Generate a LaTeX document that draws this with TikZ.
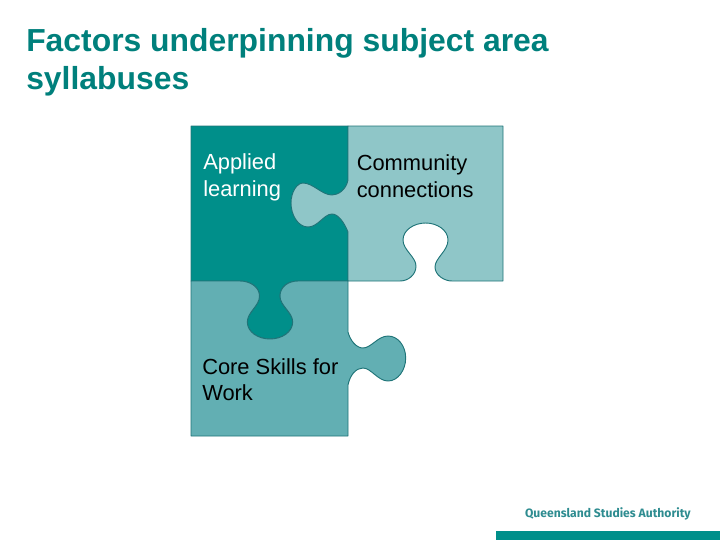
\documentclass[tikz,border=0pt]{standalone}
\usepackage{fontspec}
\setmainfont{Liberation Sans}
\newfontfamily\logofont{Fira Sans}

\definecolor{qsateal}{HTML}{00807C}
\definecolor{appliedfill}{HTML}{008F8A}
\definecolor{communityfill}{HTML}{8FC6C8}
\definecolor{coreskillsfill}{HTML}{62AFB3}
\definecolor{pieceedge}{HTML}{1F7478}
\definecolor{logoteal}{HTML}{2E8C90}

\tikzset{
  piece/.style={draw=pieceedge,line width=0.7pt,line join=round},
  label/.style={inner sep=0pt,anchor=north west,align=left,font=\fontsize{16.4}{20}\selectfont},
}

\begin{document}
\begin{tikzpicture}[x=0.75pt,y=-0.75pt]

\useasboundingbox (0,0) rectangle (720,540);

\node (title) [inner sep=0pt,anchor=north west,align=left,text=qsateal,
  font=\fontsize{23.9}{28.5}\selectfont\bfseries] at (26,28)
  {Factors underpinning subject area\\syllabuses};

% the three pieces, dark one first
\path [piece,fill=appliedfill]
  (191,126) -- (348,126) -- (348,281) -- (298,281)
  .. controls (288,281) and (280,287) .. (280,296)
  .. controls (280,306) and (292.7,312) .. (292.7,322)
  .. controls (292.7,332) and (282,339) .. (270,339)
  .. controls (258,339) and (247.3,332) .. (247.3,322)
  .. controls (247.3,312) and (259.5,306) .. (259.5,296)
  .. controls (259.5,287) and (250,281) .. (240,281)
  -- (191,281) -- cycle;

\path [piece,fill=communityfill]
  (348,126) -- (503,126) -- (503,281) -- (452,281)
  .. controls (444,281) and (435,275) .. (435,267)
  .. controls (435,258) and (448,251) .. (448,240)
  .. controls (448,230) and (437,223) .. (425.7,223)
  .. controls (414,223) and (403,230) .. (403,240)
  .. controls (403,250) and (416,257) .. (416,266)
  .. controls (416,275) and (408,281) .. (400,281)
  -- (348,281) -- (348,232)
  .. controls (344,222) and (338,214) .. (332,214)
  .. controls (324,214) and (318,227) .. (308,227)
  .. controls (298,227) and (291,215) .. (291,203)
  .. controls (291,192) and (297,183) .. (303,183)
  .. controls (313,183) and (322,195) .. (332,195)
  .. controls (338,195) and (346,190) .. (348,180)
  -- cycle;

\path [piece,fill=coreskillsfill]
  (191,281) -- (240,281)
  .. controls (250,281) and (259.5,287) .. (259.5,296)
  .. controls (259.5,306) and (247.3,312) .. (247.3,322)
  .. controls (247.3,332) and (258,339) .. (270,339)
  .. controls (282,339) and (292.7,332) .. (292.7,322)
  .. controls (292.7,312) and (280,306) .. (280,296)
  .. controls (280,287) and (288,281) .. (298,281)
  -- (348,281) -- (348,332)
  .. controls (350,340) and (356,348) .. (363,348)
  .. controls (371,348) and (378,336) .. (388,336)
  .. controls (398,336) and (405.7,346) .. (405.7,358)
  .. controls (405.7,370) and (398,381) .. (388,381)
  .. controls (378,381) and (371,368) .. (363,368)
  .. controls (356,368) and (350,375) .. (348,385)
  -- (348,436) -- (191,436) -- cycle;

\node (applied) [label,text=white] at (203,153.5) {Applied\\learning};
\node (community) [label] at (356.5,154.5) {Community\\connections};
\node (coreskills) [label] at (202,358) {Core Skills for\\Work};

\node (logo) [inner sep=0pt,anchor=base east,text=logoteal,
  font=\logofont\fontsize{9.1}{11}\selectfont\bfseries] at (691,517) {Queensland Studies Authority};
\fill [appliedfill] (496,531) rectangle (720,540);

\end{tikzpicture}
\end{document}
